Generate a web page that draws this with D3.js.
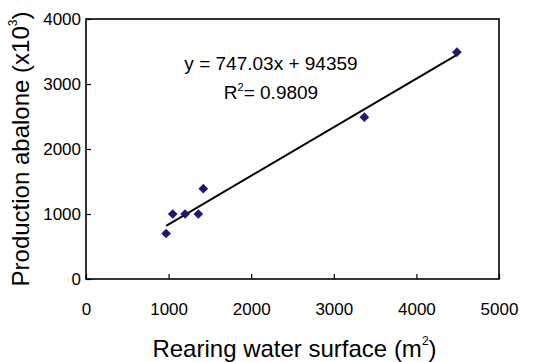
<!DOCTYPE html>
<html>
<head>
<meta charset="utf-8">
<script src="https://cdn.jsdelivr.net/npm/d3@7"></script>
<style>
  html, body { margin: 0; padding: 0; background: #fff; }
  svg { display: block; font-family: "Liberation Sans", Arial, sans-serif; }
</style>
</head>
<body>
<div id="chart"></div>
<script>
// Rearing water surface (m2) vs production of abalone (x10^3)
const surface = [970, 1050, 1200, 1360, 1420, 3370, 4490];
const production = [700, 1000, 1000, 1000, 1390, 2490, 3490];
const xTicks = [0, 1000, 2000, 3000, 4000, 5000];
const yTicks = [0, 1000, 2000, 3000, 4000];
const fitSlope = 0.74703;
const fitIntercept = 94.359;

const width = 539, height = 362;
const margin = { top: 19, right: 40, bottom: 83, left: 86 };

const svg = d3.select('#chart')
  .append('svg')
  .attr('width', width)
  .attr('height', height);

const x = d3.scaleLinear().domain([0, 5000]).range([margin.left, width - margin.right]);
const y = d3.scaleLinear().domain([0, 4000]).range([height - margin.bottom, margin.top]);

// x axis: ticks point inward, labels placed further down
const xAxis = svg.append('g')
  .attr('transform', `translate(0,${y(0)})`)
  .call(d3.axisBottom(x).tickValues(xTicks).tickFormat(d3.format('d'))
    .tickSizeInner(-5).tickSizeOuter(0).tickPadding(24));
xAxis.select('.domain').remove();
xAxis.selectAll('line').attr('stroke', '#000').attr('stroke-width', 1.2);
xAxis.selectAll('text').attr('font-size', 17).attr('fill', '#000').attr('font-family', 'Liberation Sans, Arial, sans-serif');

const yAxis = svg.append('g')
  .attr('transform', `translate(${x(0)},0)`)
  .call(d3.axisLeft(y).tickValues(yTicks).tickFormat(d3.format('d'))
    .tickSizeInner(-5).tickSizeOuter(0).tickPadding(5));
yAxis.select('.domain').remove();
yAxis.selectAll('line').attr('stroke', '#000').attr('stroke-width', 1.2);
yAxis.selectAll('text').attr('font-size', 17).attr('fill', '#000').attr('font-family', 'Liberation Sans, Arial, sans-serif');

// plot frame
svg.append('rect')
  .attr('x', x(0))
  .attr('y', y(4000))
  .attr('width', x(5000) - x(0))
  .attr('height', y(0) - y(4000))
  .attr('fill', 'none')
  .attr('stroke', '#000')
  .attr('stroke-width', 1.6);

// trend line across the data range
const xMin = d3.min(surface), xMax = d3.max(surface);
svg.append('line')
  .attr('x1', x(xMin))
  .attr('y1', y(fitSlope * xMin + fitIntercept))
  .attr('x2', x(xMax))
  .attr('y2', y(fitSlope * xMax + fitIntercept))
  .attr('stroke', '#000')
  .attr('stroke-width', 2);

// diamond markers
const diamond = d3.symbol().type(d3.symbolDiamond2).size(60);
svg.selectAll('.pt')
  .data(surface.map((s, i) => [s, production[i]]))
  .join('path')
  .attr('class', 'pt')
  .attr('d', diamond)
  .attr('transform', d => `translate(${x(d[0])},${y(d[1])})`)
  .attr('fill', '#231670');

// equation
svg.append('text')
  .attr('x', 271)
  .attr('y', 70)
  .attr('text-anchor', 'middle')
  .attr('font-size', 19)
  .text('y = 747.03x + 94359');

const r2 = svg.append('text')
  .attr('x', 271)
  .attr('y', 99)
  .attr('text-anchor', 'middle')
  .attr('font-size', 19);
r2.append('tspan').text('R');
r2.append('tspan').attr('font-size', 11).attr('dy', -8).text('2');
r2.append('tspan').attr('dy', 8).text('= 0.9809');

// axis titles
const xt = svg.append('text')
  .attr('x', (x(0) + x(5000)) / 2 + 2)
  .attr('y', 357)
  .attr('text-anchor', 'middle')
  .attr('font-size', 24);
xt.append('tspan').text('Rearing water surface (m');
xt.append('tspan').attr('font-size', 12).attr('dy', -12).text('2');
xt.append('tspan').attr('dy', 12).text(')');

const yt = svg.append('text')
  .attr('transform', `translate(29,${(y(0) + y(4000)) / 2}) rotate(-90)`)
  .attr('text-anchor', 'middle')
  .attr('font-size', 24);
yt.append('tspan').text('Production abalone (x10');
yt.append('tspan').attr('font-size', 12).attr('dy', -12).text('3');
yt.append('tspan').attr('dy', 12).text(')');
</script>
</body>
</html>
